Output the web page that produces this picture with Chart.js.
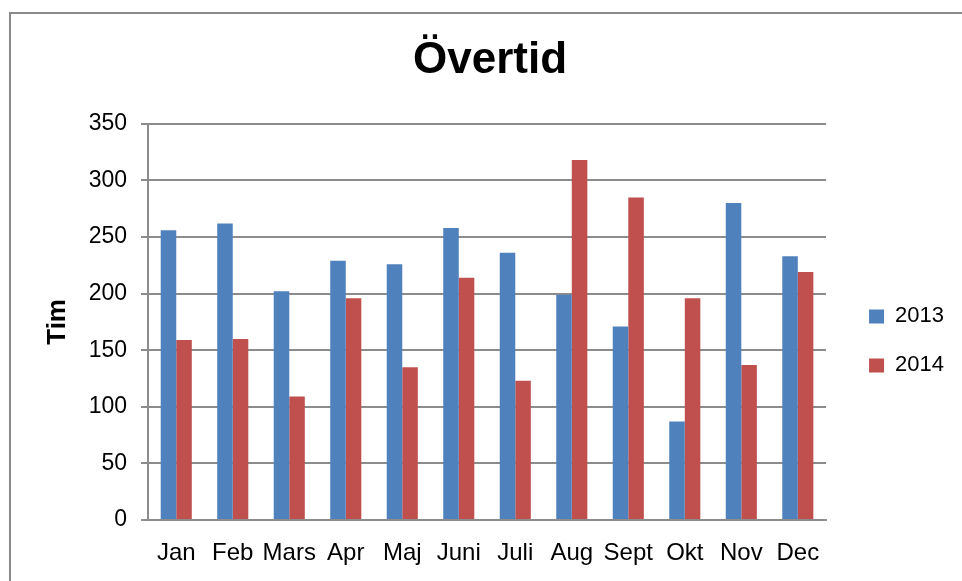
<!DOCTYPE html>
<html>
<head>
<meta charset="utf-8">
<script src="https://cdn.jsdelivr.net/npm/chart.js@4/dist/chart.umd.min.js"></script>
<style>
  html, body { margin: 0; padding: 0; background: #fff; }
  #canva { display: block; }
</style>
</head>
<body>
<canvas id="canva" width="962" height="581"></canvas>
<script>
// data
const meses = ['Jan', 'Feb', 'Mars', 'Apr', 'Maj', 'Juni', 'Juli', 'Aug', 'Sept', 'Okt', 'Nov', 'Dec'];
const tim_2013 = [256, 262, 202, 229, 226, 258, 236, 199, 171, 87, 280, 233];
const tim_2014 = [159, 160, 109, 196, 135, 214, 123, 318, 285, 196, 137, 219];
const y_min = 0;
const y_max = 350;
const y_paso = 50;

const fuente = "'Liberation Sans', Arial, sans-serif";
const gris = '#8c8c8c';

// marco gris alrededor del grafico
const marco = {
	id: 'marco',
	beforeDraw(chart) {
		const c = chart.ctx;
		c.save();
		c.fillStyle = '#fff';
		c.fillRect(0, 0, chart.width, chart.height);
		c.strokeStyle = '#8a8a8a';
		c.lineWidth = 2;
		c.strokeRect(10, 13, 1000, 1000);
		c.restore();
	}
};

const ctx = document.getElementById('canva').getContext('2d');

const grafico = new Chart(ctx, {
	type: 'bar',
	data: {
		labels: meses,
		datasets: [{
			label: '2013',
			data: tim_2013,
			backgroundColor: '#4F81BD'
		}, {
			label: '2014',
			data: tim_2014,
			backgroundColor: '#C0504D'
		}]
	},
	options: {
		responsive: false,
		animation: false,
		devicePixelRatio: 1,
		datasets: {
			bar: { categoryPercentage: 0.55, barPercentage: 1.0 }
		},
		layout: { padding: { left: 26, right: 8, top: 0, bottom: 0 } },
		plugins: {
			title: {
				display: true,
				text: 'Övertid',
				color: '#000',
				font: { family: fuente, size: 44, weight: 'bold' },
				padding: { top: 34, bottom: 37 }
			},
			legend: {
				position: 'right',
				fullSize: false,
				align: 'center',
				title: { display: true, text: '', font: { size: 38, lineHeight: 1 }, padding: 0 },
				labels: {
					boxWidth: 15,
					boxHeight: 14,
					padding: 27,
					color: '#000',
					font: { family: fuente, size: 22 }
				}
			},
			tooltip: { enabled: false }
		},
		scales: {
			x: {
				grid: { display: false, drawTicks: false },
				border: { display: true, color: gris, width: 2 },
				ticks: {
					color: '#000',
					padding: 19,
					maxRotation: 0,
					autoSkip: false,
					font: { family: fuente, size: 24 }
				},
				afterFit: escala => { escala.height = 61; }
			},
			y: {
				min: y_min,
				max: y_max,
				grid: { color: gris, lineWidth: 2, tickLength: 7 },
				border: { display: true, color: gris, width: 2 },
				ticks: {
					stepSize: y_paso,
					color: '#000',
					padding: 14,
					font: { family: fuente, size: 23 }
				},
				title: {
					display: true,
					text: 'Tim',
					color: '#000',
					font: { family: fuente, size: 26, weight: 'bold' },
					padding: { top: 16, bottom: 0 }
				},
				afterFit: escala => { escala.width = 122; }
			},
			// eje vacio para dejar espacio entre el area y la leyenda
			hueco: {
				type: 'linear',
				position: 'right',
				display: true,
				grid: { display: false, drawTicks: false },
				border: { display: false },
				ticks: { display: false },
				afterFit: escala => { escala.width = 16; }
			}
		}
	},
	plugins: [marco]
});
</script>
</body>
</html>
